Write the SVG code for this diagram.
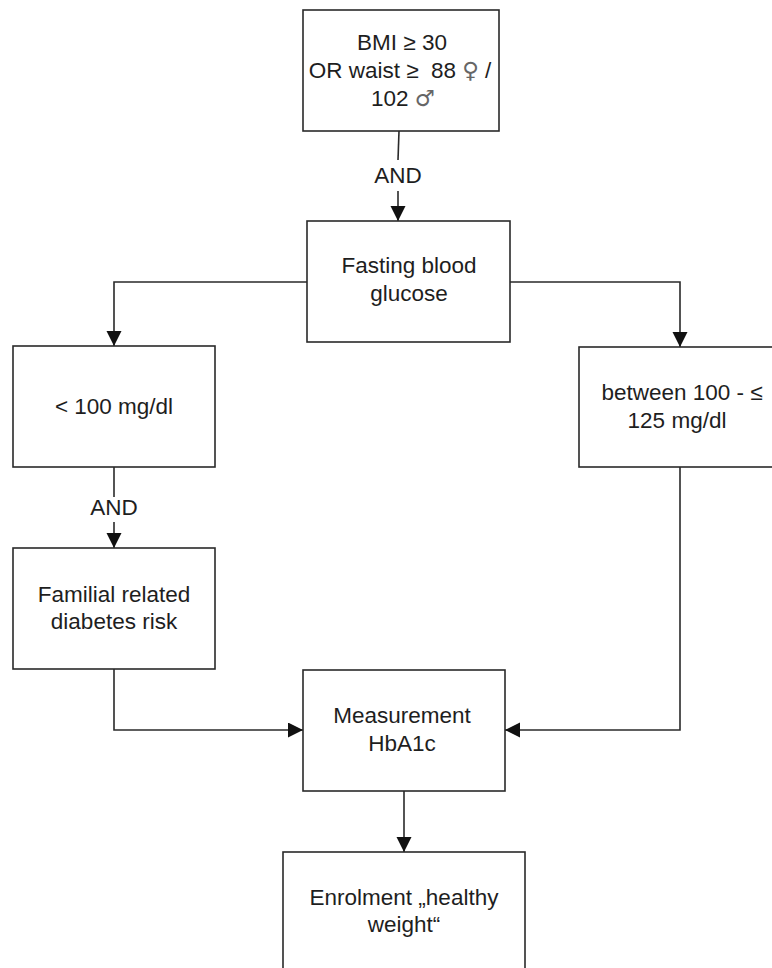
<svg xmlns="http://www.w3.org/2000/svg" width="772" height="968" viewBox="0 0 772 968">
<style>
.box{fill:#fff;stroke:#2a2a2a;stroke-width:1.6}
.ln{fill:none;stroke:#2a2a2a;stroke-width:1.6}
text{font-family:"Liberation Sans",Arial,sans-serif;font-size:22.5px;fill:#1e1e1e;text-anchor:middle}
.sym{font-family:"DejaVu Sans",sans-serif;fill:#666;font-weight:normal}
</style>
<defs>
<marker id="ah" markerUnits="userSpaceOnUse" markerWidth="16" markerHeight="16" refX="15" refY="7.5" orient="auto">
<path d="M0,0 L15,7.5 L0,15 Z" fill="#111"/>
</marker>
</defs>
<rect width="772" height="968" fill="#fff"/>
<g id="connectors">
<line class="ln" x1="399" y1="131" x2="398" y2="160"/>
<line class="ln" x1="398" y1="191" x2="398" y2="221" marker-end="url(#ah)"/>
<text x="398" y="183">AND</text>
<polyline class="ln" points="307,282 114,282 114,346" marker-end="url(#ah)"/>
<polyline class="ln" points="510,282 680,282 680,347" marker-end="url(#ah)"/>
<line class="ln" x1="114" y1="467" x2="114" y2="497"/>
<line class="ln" x1="114" y1="522" x2="114" y2="548" marker-end="url(#ah)"/>
<text x="114" y="515">AND</text>
<polyline class="ln" points="114,669 114,730 303,730" marker-end="url(#ah)"/>
<polyline class="ln" points="680,467 680,730 505,730" marker-end="url(#ah)"/>
<line class="ln" x1="404" y1="791" x2="404" y2="852" marker-end="url(#ah)"/>
</g>
<g id="bmi">
<rect class="box" x="303" y="10" width="196" height="121"/>
<text x="402" y="50">BMI ≥ 30</text>
<text x="400" y="78" xml:space="preserve">OR waist ≥  88 <tspan class="sym">♀</tspan> /</text>
<text x="403" y="106" xml:space="preserve">102 <tspan class="sym">♂</tspan></text>
</g>
<g id="fasting">
<rect class="box" x="307" y="221" width="203" height="121"/>
<text x="409" y="273">Fasting blood</text>
<text x="409" y="301">glucose</text>
</g>
<g id="low">
<rect class="box" x="13" y="346" width="202" height="121"/>
<text x="114" y="414">&lt; 100 mg/dl</text>
</g>
<g id="mid">
<rect class="box" x="579" y="347" width="205" height="120"/>
<text x="682" y="400">between 100 - ≤</text>
<text x="677" y="428">125 mg/dl</text>
</g>
<g id="familial">
<rect class="box" x="13" y="548" width="202" height="121"/>
<text x="114" y="602">Familial related</text>
<text x="114" y="629">diabetes risk</text>
</g>
<g id="hba1c">
<rect class="box" x="303" y="670" width="202" height="121"/>
<text x="402" y="723">Measurement</text>
<text x="402" y="751">HbA1c</text>
</g>
<g id="enrol">
<rect class="box" x="283" y="852" width="242" height="130"/>
<text x="404" y="905">Enrolment „healthy</text>
<text x="404" y="932">weight“</text>
</g>
</svg>
